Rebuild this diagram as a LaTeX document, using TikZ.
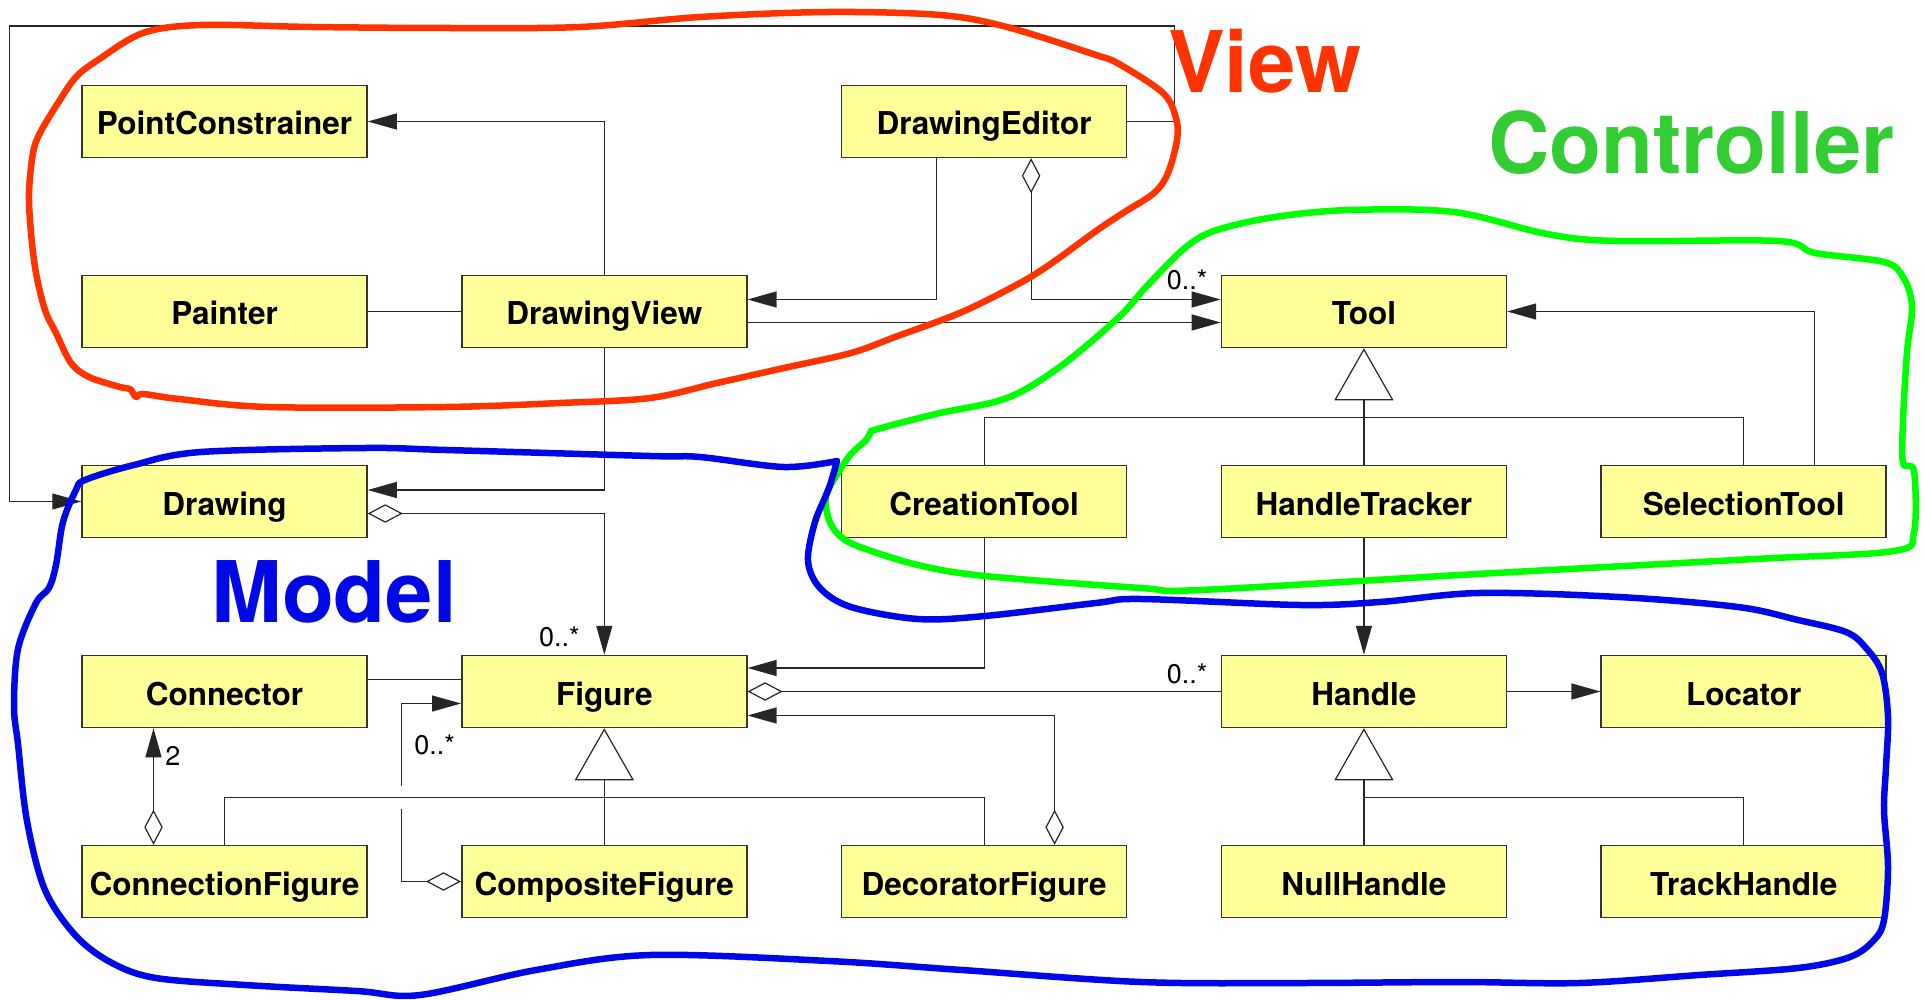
\documentclass[tikz,border=0pt]{standalone}
\usepackage{fontspec}
\setmainfont{TeX Gyre Heros}
\usetikzlibrary{arrows.meta,calc}
\definecolor{boxfill}{HTML}{FFFF99}
\definecolor{viewred}{HTML}{FF3300}
\definecolor{ctrlgreen}{HTML}{00FF00}
\definecolor{ctrltext}{HTML}{33CC33}
\definecolor{modelblue}{HTML}{0008E6}
\begin{document}
\begin{tikzpicture}[x=1pt,y=-1pt,
  cls/.style={draw=black!80, line width=1.5pt, fill=boxfill,
    minimum width=285pt, minimum height=72pt, inner sep=0pt,
    font=\fontsize{31.5}{37}\selectfont\bfseries, text height=27pt, text depth=0pt},
  link/.style={draw=black!85, line width=1.2pt},
  nav/.style={link, -{Triangle[length=29pt,width=16pt]}},
  agg/.style={link, {Diamond[length=35pt,width=18.5pt,fill=white]}-},
  aggnav/.style={link, {Diamond[length=35pt,width=18.5pt,fill=white]}-{Triangle[length=29pt,width=16pt]}},
  inherit/.style={link, -{Triangle[length=52pt,width=59pt,fill=white]}},
  mult/.style={font=\fontsize{27}{32}\selectfont, inner sep=0pt},
  loop/.style={line width=6.5pt, line cap=round, line join=round},
  layer/.style={font=\fontsize{85}{100}\selectfont\bfseries, inner sep=0pt}
]
\useasboundingbox (0,0) rectangle (1925,1000);

% class boxes on a 5 x 5 grid
\node[cls] (pc)        at (224.5,121.5)  {PointConstrainer};
\node[cls] (editor)    at (984.1,121.5)  {DrawingEditor};
\node[cls] (painter)   at (224.5,311.5)  {Painter};
\node[cls] (view)      at (604.3,311.5)  {DrawingView};
\node[cls] (tool)      at (1363.9,311.5) {Tool};
\node[cls] (drawing)   at (224.5,501.5)  {Drawing};
\node[cls] (creation)  at (984.1,501.5)  {CreationTool};
\node[cls] (tracker)   at (1363.9,501.5) {HandleTracker};
\node[cls] (selection) at (1743.7,501.5) {SelectionTool};
\node[cls] (connector) at (224.5,691.5)  {Connector};
\node[cls] (fig)       at (604.3,691.5)  {Figure};
\node[cls] (handle)    at (1363.9,691.5) {Handle};
\node[cls] (locator)   at (1743.7,691.5) {Locator};
\node[cls] (connfig)   at (224.5,881.5)  {ConnectionFigure};
\node[cls] (compfig)   at (604.3,881.5)  {CompositeFigure};
\node[cls] (decfig)    at (984.1,881.5)  {DecoratorFigure};
\node[cls] (nullh)     at (1363.9,881.5) {NullHandle};
\node[cls] (trackh)    at (1743.7,881.5) {TrackHandle};

% editor -> drawing, routed round the top of the diagram
\coordinate (tr) at ($(editor.east)+(47,-95.5)$);
\coordinate (tl) at ($(drawing.west)+(-71.7,-475.5)$);
\draw[nav] (editor.east) -| (tr) -- (tl) |- (drawing.west);

% view part
\draw[nav] (view.north) |- (pc.east);
\draw[link] (painter.east) -- (view.west);
\draw[nav] ($(editor.south)+(-48,0)$) |- ($(view.east)+(0,-12)$);
\draw[aggnav] ($(editor.south)+(47,0)$) |- ($(tool.west)+(0,-12)$);
\node[mult, anchor=base east] at ($(tool.west)+(-13,-21.5)$) {0..*};
\draw[nav] ($(view.east)+(0,11)$) -- ($(tool.west)+(0,11)$);
\draw[nav] (view.south) |- ($(drawing.east)+(0,-11.5)$);

% model part
\draw[aggnav] ($(drawing.east)+(0,12)$) -| (fig.north);
\node[mult, anchor=base east] at ($(fig.north)+(-24.5,-8.5)$) {0..*};
\draw[link] ($(connector.east)+(0,-11.7)$) -- ($(fig.west)+(0,-11.7)$);
\draw[aggnav] ($(connfig.north)+(-71,0)$) -- ($(connector.south)+(-71,0)$);
\node[mult, anchor=base west] at ($(connector.south west)+(84,37.5)$) {2};

\coordinate (jf) at ($(compfig.north)+(0,-47)$);
\draw[inherit] (compfig.north) -- (fig.south);
\draw[link] (connfig.north) |- (jf) -| (decfig.north);

% composite -> figure, with a jump where it crosses the inheritance bar
\coordinate (kx) at ($(compfig.west)+(-59.3,0)$);
\coordinate (kj) at (kx |- jf);
\coordinate (gapb) at ($(kj)+(0,11.5)$);
\coordinate (gapt) at ($(kj)+(0,-12)$);
\draw[agg] (compfig.west) -- (kx) -- (gapb);
\draw[nav] (gapt) |- ($(fig.west)+(0,12)$);
\node[mult, anchor=base west] at ($(fig.south west)+(-47,26.5)$) {0..*};

\draw[aggnav] ($(decfig.north)+(70.5,0)$) |- ($(fig.east)+(0,24)$);
\draw[nav] (creation.south) |- ($(fig.east)+(0,-23.5)$);

\draw[agg] (fig.east) -- (handle.west);
\node[mult, anchor=base east] at ($(handle.west)+(-13,-8.5)$) {0..*};
\draw[nav] (tracker.south) -- (handle.north);
\draw[nav] (handle.east) -- (locator.west);

\coordinate (jh) at ($(nullh.north)+(0,-47)$);
\draw[inherit] (nullh.north) -- (handle.south);
\draw[link] (jh) -| (trackh.north);

% controller part
\coordinate (jt) at ($(tracker.north)+(0,-47)$);
\draw[inherit] (tracker.north) -- (tool.south);
\draw[link] (creation.north) |- (jt) -| (selection.north);
\draw[nav] ($(selection.north)+(71,0)$) |- (tool.east);

% hand-drawn outlines of the three parts
\draw[loop, viewred] plot[smooth cycle, tension=0.55] coordinates {
  (98,60) (143,33) (201,25) (312,27) (446,28) (580,27) (700,17) (828,12)
  (940,15) (1007,27) (1096,55) (1119,64) (1163,93) (1176,118) (1177,140)
  (1168,173) (1154,193) (1123,213) (1096,231) (1052,263) (1020,283)
  (962,312) (895,337) (851,353) (784,368) (717,383) (650,398) (560,403)
  (446,407) (268,407) (179,399) (143,394) (136,397) (130,389) (120,387)
  (89,377) (71,363) (56,333) (45,310) (36,273) (31,233) (29,193) (33,153)
  (40,133) (58,103) (76,77)};

\draw[loop, ctrlgreen] plot[smooth, tension=0.55] coordinates {
  (871,431) (896,424) (940,413) (1007,398) (1061,366) (1119,317)
  (1146,287) (1186,247) (1217,230) (1275,217) (1350,210) (1454,212)
  (1547,234) (1616,241) (1778,241) (1815,253) (1884,262) (1903,277)
  (1912,306) (1907,352) (1903,421) (1903,463) (1914,471) (1914,532)
  (1894,551) (1755,559) (1477,574) (1200,590) (1141,588) (985,576)
  (918,565) (860,547) (840,536) (829,520) (826,496) (838,473) (851,454)
  (866,440) (871,431)};

\draw[loop, modelblue] plot[smooth, tension=0.55] coordinates {
  (837,461) (829,488) (815,522) (808,561) (820,588) (851,607) (918,619)
  (985,616) (1096,603) (1141,599) (1300,605) (1380,602) (1479,593)
  (1619,597) (1738,607) (1798,620) (1846,632) (1866,648) (1882,673)
  (1888,717) (1886,767) (1884,810) (1888,867) (1884,920) (1874,940)
  (1850,957) (1798,968) (1699,975) (1579,983) (1459,982) (1300,983)
  (1141,982) (962,970) (829,961) (650,955) (536,970) (420,995) (357,991)
  (245,985) (156,978) (112,963) (76,936) (45,890) (27,821) (18,744)
  (14,706) (18,649) (36,603) (49,588) (56,565) (63,522) (76,490) (85,480)
  (134,465) (201,452) (366,448) (446,450) (650,456) (700,457) (784,467)
  (837,461)};

% part names
\node[layer, viewred, anchor=base west] (viewname) at (1168,93) {View};
\node[layer, ctrltext, anchor=base west] (ctrlname) at (1488,174) {Controller};
\node[layer, modelblue, anchor=base west] (modelname) at (211,622) {Model};
\end{tikzpicture}
\end{document}
